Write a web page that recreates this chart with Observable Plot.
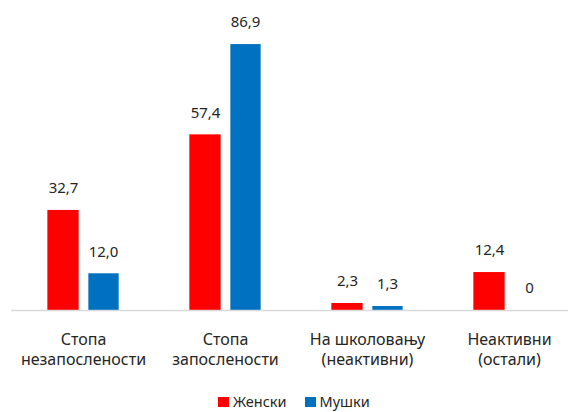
<!DOCTYPE html>
<html>
<head>
<meta charset="utf-8">
<script src="https://cdn.jsdelivr.net/npm/d3@7"></script>
<script src="https://cdn.jsdelivr.net/npm/@observablehq/plot@0.6"></script>
<style>
  body { margin: 0; background: #fff; font-family: "Noto Sans", sans-serif; overflow: hidden; }
  #chart { position: relative; width: 568px; height: 412px; }
  .legend { position: absolute; left: 218px; top: 392px; display: flex; align-items: center; font-size: 14.5px; color: #262626; line-height: 19px; height: 19px; }
  .legend .sw { width: 11px; height: 10px; display: inline-block; margin-right: 4px; }
  .legend .item { display: flex; align-items: center; margin-right: 18px; }
</style>
</head>
<body>
<div id="chart"></div>
<script>
const categories = ["Стопа\nнезапослености", "Стопа\nзапослености", "На школовању\n(неактивни)", "Неактивни\n(остали)"];
const seriesNames = ["Женски", "Мушки"];
const seriesColors = ["#FF0000", "#0070C0"];
const femaleValues = [32.7, 57.4, 2.3, 12.4];
const maleValues = [12.0, 86.9, 1.3, 0];

const fmt = v => v === 0 ? "0" : v.toFixed(1).replace(".", ",");
const female = categories.map((c, i) => ({cat: c, value: femaleValues[i]}));
const male = categories.map((c, i) => ({cat: c, value: maleValues[i]}));

const W = 568;
const step = 142.7;
const x0 = 10.65;

const plot = Plot.plot({
  width: W,
  height: 385,
  marginLeft: 11,
  marginRight: 0,
  marginTop: 4,
  marginBottom: 75,
  style: {fontFamily: "'Noto Sans', sans-serif", color: "#262626", background: "#fff"},
  x: {domain: categories, range: [x0, x0 + step * categories.length], padding: 0},
  y: {domain: [0, 100], axis: null},
  marks: [
    Plot.barY(female, {x: "cat", y: "value", fill: seriesColors[0], insetLeft: step/2 - 36, insetRight: step/2 + 4}),
    Plot.barY(male, {x: "cat", y: "value", fill: seriesColors[1], insetLeft: step/2 + 5, insetRight: step/2 - 36}),
    Plot.ruleY([0], {stroke: "#d9d9d9", strokeWidth: 1.3}),
    Plot.text(female, {x: "cat", y: "value", text: d => fmt(d.value), dx: -20, dy: -22, fontSize: 15, fill: "#262626", lineAnchor: "middle"}),
    Plot.text(male, {x: "cat", y: "value", text: d => fmt(d.value), dx: 20, dy: -22, fontSize: 15, fill: "#262626", lineAnchor: "middle"}),
    Plot.axisX({tickSize: 0, tickPadding: 20, fontSize: 16, lineHeight: 1.25, label: null, fill: "#262626"})
  ]
});
document.getElementById("chart").appendChild(plot);

const legend = document.createElement("div");
legend.className = "legend";
seriesNames.forEach((n, i) => {
  const item = document.createElement("span");
  item.className = "item";
  const sw = document.createElement("span");
  sw.className = "sw";
  sw.style.background = seriesColors[i];
  item.appendChild(sw);
  item.appendChild(document.createTextNode(n));
  legend.appendChild(item);
});
document.getElementById("chart").appendChild(legend);
</script>
</body>
</html>
